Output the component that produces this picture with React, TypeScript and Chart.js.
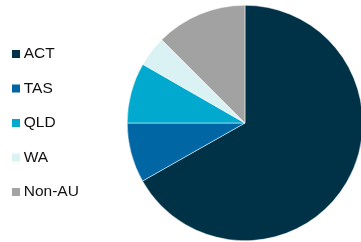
import React, { useEffect, useRef } from "react";
import { Chart, registerables } from "chart.js";

Chart.register(...registerables);

const categories = ["ACT", "TAS", "QLD", "WA", "Non-AU"];
const values = [66.8, 8.2, 8.3, 4.2, 12.5];
const colors = ["#003247", "#0067a4", "#00a9cd", "#dbf2f4", "#a2a2a2"];

export default function App() {
  const ref = useRef<HTMLCanvasElement | null>(null);
  useEffect(() => {
    if (!ref.current) return;
    const chart = new Chart(ref.current, {
      type: "pie",
      data: {
        labels: categories,
        datasets: [
          {
            data: values,
            backgroundColor: colors,
            borderColor: "#ffffff",
            borderWidth: 0.5,
          },
        ],
      },
      options: {
        responsive: false,
        animation: false,
        layout: { padding: { top: 5, bottom: 1, left: 0, right: 0 } },
        plugins: {
          tooltip: { enabled: false },
          legend: {
            position: "left",
            labels: {
              boxWidth: 0.01,
              boxHeight: 0.01,
              padding: 19,
              color: "#111111",
              font: { family: "'Liberation Sans', Arial, sans-serif", size: 15.5 },
              generateLabels: (c: any) =>
                categories.map((label, i) => ({
                  text: label,
                  fillStyle: colors[i],
                  strokeStyle: colors[i],
                  lineWidth: 8,
                  hidden: false,
                  index: i,
                  fontColor: "#111111",
                })),
            },
          },
        },
      },
    });
    return () => chart.destroy();
  }, []);
  return (
    <div
      style={{
        position: "fixed",
        left: 0,
        top: 0,
        width: 361,
        height: 242,
        overflow: "hidden",
        background: "#fff",
      }}
    >
      <canvas
        ref={ref}
        width={404}
        height={242}
        style={{ position: "absolute", left: -3, top: 0, width: 404, height: 242 }}
      />
    </div>
  );
}
